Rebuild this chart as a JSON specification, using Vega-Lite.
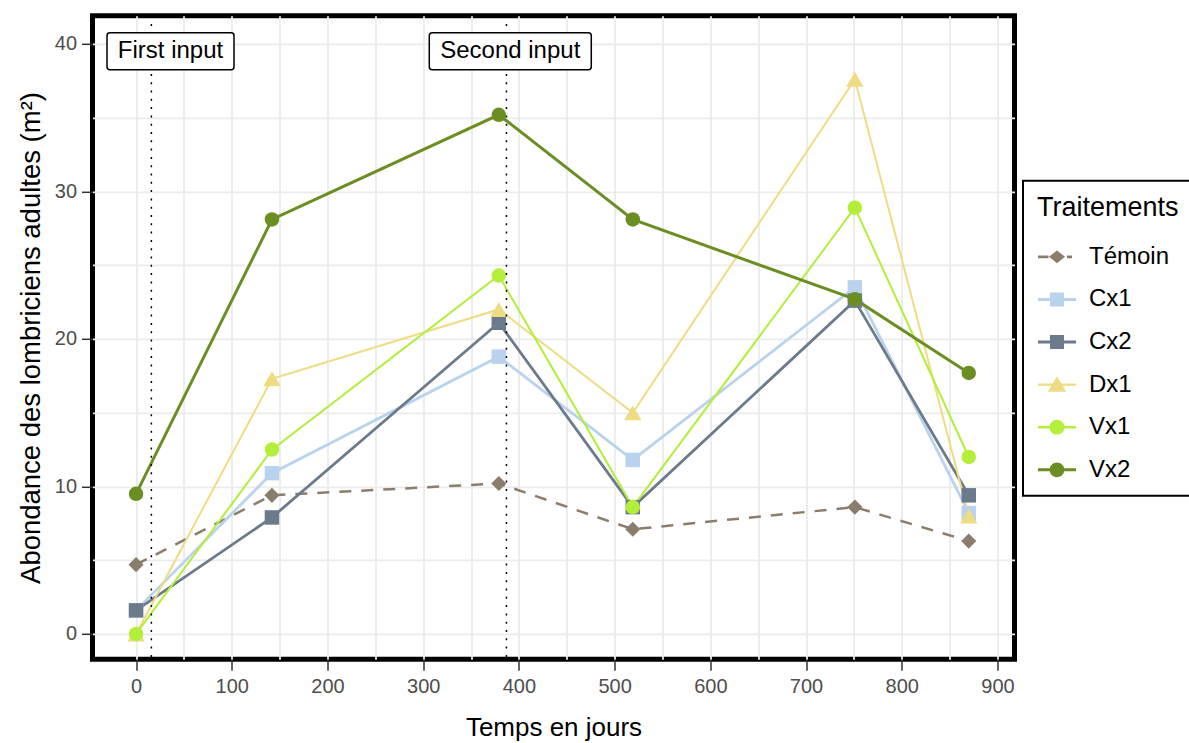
{
  "$schema": "https://vega.github.io/schema/vega-lite/v6.json",
  "width": 922,
  "height": 643.4,
  "autosize": {"type": "none"},
  "padding": {"left": 92.5, "top": 15.8, "right": 174.5, "bottom": 84},
  "background": "white",
  "datasets": {
    "series": [
      {"traitement": "Témoin", "jours": 0, "abondance": 4.7},
      {"traitement": "Témoin", "jours": 142, "abondance": 9.4},
      {"traitement": "Témoin", "jours": 379, "abondance": 10.2},
      {"traitement": "Témoin", "jours": 519, "abondance": 7.1},
      {"traitement": "Témoin", "jours": 751, "abondance": 8.6},
      {"traitement": "Témoin", "jours": 870, "abondance": 6.3},
      {"traitement": "Cx1", "jours": 0, "abondance": 1.6},
      {"traitement": "Cx1", "jours": 142, "abondance": 10.9},
      {"traitement": "Cx1", "jours": 379, "abondance": 18.8},
      {"traitement": "Cx1", "jours": 519, "abondance": 11.8},
      {"traitement": "Cx1", "jours": 751, "abondance": 23.5},
      {"traitement": "Cx1", "jours": 870, "abondance": 8.2},
      {"traitement": "Cx2", "jours": 0, "abondance": 1.6},
      {"traitement": "Cx2", "jours": 142, "abondance": 7.9},
      {"traitement": "Cx2", "jours": 379, "abondance": 21.1},
      {"traitement": "Cx2", "jours": 519, "abondance": 8.6},
      {"traitement": "Cx2", "jours": 751, "abondance": 22.6},
      {"traitement": "Cx2", "jours": 870, "abondance": 9.4},
      {"traitement": "Dx1", "jours": 0, "abondance": 0},
      {"traitement": "Dx1", "jours": 142, "abondance": 17.3},
      {"traitement": "Dx1", "jours": 379, "abondance": 22.0},
      {"traitement": "Dx1", "jours": 519, "abondance": 15.0},
      {"traitement": "Dx1", "jours": 751, "abondance": 37.6},
      {"traitement": "Dx1", "jours": 870, "abondance": 8.0},
      {"traitement": "Vx1", "jours": 0, "abondance": 0},
      {"traitement": "Vx1", "jours": 142, "abondance": 12.5},
      {"traitement": "Vx1", "jours": 379, "abondance": 24.3},
      {"traitement": "Vx1", "jours": 519, "abondance": 8.6},
      {"traitement": "Vx1", "jours": 751, "abondance": 28.9},
      {"traitement": "Vx1", "jours": 870, "abondance": 12.0},
      {"traitement": "Vx2", "jours": 0, "abondance": 9.5},
      {"traitement": "Vx2", "jours": 142, "abondance": 28.1},
      {"traitement": "Vx2", "jours": 379, "abondance": 35.2},
      {"traitement": "Vx2", "jours": 519, "abondance": 28.1},
      {"traitement": "Vx2", "jours": 751, "abondance": 22.7},
      {"traitement": "Vx2", "jours": 870, "abondance": 17.7}
    ],
    "annotations": [
      {"label": "First input", "input": 16, "jours": 36, "abondance": 39.5},
      {"label": "Second input", "input": 387, "jours": 391, "abondance": 39.5}
    ]
  },
  "config": {
    "font": "Liberation Sans",
    "view": {"stroke": "black", "strokeWidth": 5},
    "axis": {
      "domain": false,
      "grid": true,
      "gridColor": "#EBEBEB",
      "gridWidth": 1.8,
      "tickColor": "#333333",
      "tickWidth": 1.5,
      "tickSize": 11,
      "labelFont": "Liberation Sans",
      "labelFontSize": 20,
      "labelColor": "#4D4D4D",
      "labelFlush": false,
      "labelOverlap": false,
      "titleFont": "Liberation Sans",
      "titleFontSize": 26,
      "titleFontWeight": "normal",
      "titleColor": "black"
    },
    "legend": {
      "titleFont": "Liberation Sans",
      "titleFontSize": 27,
      "titleFontWeight": "normal",
      "titleColor": "black",
      "titlePadding": 15,
      "labelFont": "Liberation Sans",
      "labelFontSize": 24,
      "labelColor": "black",
      "labelOffset": 12,
      "symbolSize": 1600,
      "symbolStrokeWidth": 0,
      "symbolOpacity": 1,
      "padding": 14,
      "rowPadding": 10.6,
      "strokeColor": "black",
      "strokeWidth": 2,
      "fillColor": "white"
    }
  },
  "layer": [
    {
      "data": {"name": "series"},
      "transform": [{"filter": {"field": "traitement", "equal": "Témoin"}}],
      "mark": {"type": "line", "strokeWidth": 2.5, "strokeDash": [12, 10]},
      "encoding": {
        "x": {"field": "jours", "type": "quantitative", "scale": {"domain": [-45.5, 917.8], "nice": false, "zero": false},
          "axis": {
            "title": "Temps en jours",
            "values": [0, 50, 100, 150, 200, 250, 300, 350, 400, 450, 500, 550, 600, 650, 700, 750, 800, 850, 900],
            "labelExpr": "datum.value % 100 === 0 ? datum.label : ''",
            "tickOpacity": {"condition": {"test": "datum.value % 100 === 0", "value": 1}, "value": 0},
            "labelPadding": 6,
            "titlePadding": 18
          }},
        "y": {"field": "abondance", "type": "quantitative", "scale": {"domain": [-1.71, 41.91], "nice": false, "zero": false},
          "axis": {
            "title": "Abondance des lombriciens adultes (m²)",
            "titleFontSize": 27.5,
            "values": [0, 5, 10, 15, 20, 25, 30, 35, 40],
            "labelExpr": "datum.value % 10 === 0 ? datum.label : ''",
            "tickOpacity": {"condition": {"test": "datum.value % 10 === 0", "value": 1}, "value": 0},
            "labelPadding": 5,
            "titlePadding": 9
          }},
        "color": {"field": "traitement", "type": "nominal", "legend": null,
          "scale": {"range": ["#B9D3EE", "#6C7B8B", "#EEDC82", "#8B7D6B", "#B3EE3A", "#6B8E23"]}}
      }
    },
    {
      "data": {"name": "series"},
      "transform": [{"filter": {"field": "traitement", "oneOf": ["Cx1", "Cx2"]}}],
      "mark": {"type": "line", "strokeWidth": 2.8},
      "encoding": {
        "x": {"field": "jours", "type": "quantitative"},
        "y": {"field": "abondance", "type": "quantitative"},
        "color": {"field": "traitement", "type": "nominal", "legend": null}
      }
    },
    {
      "data": {"name": "series"},
      "transform": [{"filter": {"field": "traitement", "oneOf": ["Dx1", "Vx1"]}}],
      "mark": {"type": "line", "strokeWidth": 2},
      "encoding": {
        "x": {"field": "jours", "type": "quantitative"},
        "y": {"field": "abondance", "type": "quantitative"},
        "color": {"field": "traitement", "type": "nominal", "legend": null}
      }
    },
    {
      "data": {"name": "series"},
      "transform": [{"filter": {"field": "traitement", "equal": "Vx2"}}],
      "mark": {"type": "line", "strokeWidth": 3},
      "encoding": {
        "x": {"field": "jours", "type": "quantitative"},
        "y": {"field": "abondance", "type": "quantitative"},
        "color": {"field": "traitement", "type": "nominal", "legend": null}
      }
    },
    {
      "data": {"name": "series"},
      "transform": [{"filter": {"field": "traitement", "equal": "Témoin"}}],
      "mark": {"type": "point", "shape": "diamond", "size": 230, "filled": true, "opacity": 1},
      "encoding": {
        "x": {"field": "jours", "type": "quantitative"},
        "y": {"field": "abondance", "type": "quantitative"},
        "color": {"field": "traitement", "type": "nominal", "legend": null}
      }
    },
    {
      "data": {"name": "series"},
      "transform": [{"filter": {"field": "traitement", "oneOf": ["Cx1", "Cx2"]}}],
      "mark": {"type": "point", "shape": "square", "size": 210, "filled": true, "opacity": 1},
      "encoding": {
        "x": {"field": "jours", "type": "quantitative"},
        "y": {"field": "abondance", "type": "quantitative"},
        "color": {"field": "traitement", "type": "nominal", "legend": null}
      }
    },
    {
      "data": {"name": "series"},
      "transform": [{"filter": {"field": "traitement", "equal": "Dx1"}}],
      "mark": {"type": "point", "shape": "triangle-up", "size": 300, "filled": true, "opacity": 1},
      "encoding": {
        "x": {"field": "jours", "type": "quantitative"},
        "y": {"field": "abondance", "type": "quantitative"},
        "color": {"field": "traitement", "type": "nominal", "legend": null}
      }
    },
    {
      "data": {"name": "series"},
      "transform": [{"filter": {"field": "traitement", "oneOf": ["Vx1", "Vx2"]}}],
      "mark": {"type": "point", "shape": "circle", "size": 210, "filled": true, "opacity": 1},
      "encoding": {
        "x": {"field": "jours", "type": "quantitative"},
        "y": {"field": "abondance", "type": "quantitative"},
        "color": {"field": "traitement", "type": "nominal", "legend": null}
      }
    },
    {
      "data": {"name": "annotations"},
      "mark": {"type": "rule", "color": "black", "strokeWidth": 1.5, "strokeDash": [2, 6.3]},
      "encoding": {
        "x": {"field": "input", "type": "quantitative"}
      }
    },
    {
      "data": {"name": "annotations"},
      "transform": [{"filter": {"field": "label", "equal": "First input"}}],
      "mark": {"type": "point", "size": 4, "filled": true, "fill": "white", "stroke": "black", "strokeWidth": 1.5, "opacity": 1,
        "shape": "M-60.5,-18.5 H60.5 Q63.5,-18.5 63.5,-15.5 V15.5 Q63.5,18.5 60.5,18.5 H-60.5 Q-63.5,18.5 -63.5,15.5 V-15.5 Q-63.5,-18.5 -60.5,-18.5 Z"},
      "encoding": {
        "x": {"field": "jours", "type": "quantitative"},
        "y": {"field": "abondance", "type": "quantitative"}
      }
    },
    {
      "data": {"name": "annotations"},
      "transform": [{"filter": {"field": "label", "equal": "Second input"}}],
      "mark": {"type": "point", "size": 4, "filled": true, "fill": "white", "stroke": "black", "strokeWidth": 1.5, "opacity": 1,
        "shape": "M-78,-18.5 H78 Q81,-18.5 81,-15.5 V15.5 Q81,18.5 78,18.5 H-78 Q-81,18.5 -81,15.5 V-15.5 Q-81,-18.5 -78,-18.5 Z"},
      "encoding": {
        "x": {"field": "jours", "type": "quantitative"},
        "y": {"field": "abondance", "type": "quantitative"}
      }
    },
    {
      "data": {"name": "annotations"},
      "mark": {"type": "text", "font": "Liberation Sans", "fontSize": 24, "color": "black", "align": "center", "baseline": "middle"},
      "encoding": {
        "x": {"field": "jours", "type": "quantitative"},
        "y": {"field": "abondance", "type": "quantitative"},
        "text": {"field": "label", "type": "nominal"}
      }
    },
    {
      "data": {"values": []},
      "mark": {"type": "point", "filled": true, "opacity": 1},
      "encoding": {
        "x": {"field": "jours", "type": "quantitative"},
        "y": {"field": "abondance", "type": "quantitative"},
        "fill": {"field": "traitement", "type": "nominal",
          "scale": {"domain": ["Témoin", "Cx1", "Cx2", "Dx1", "Vx1", "Vx2"], "range": ["#8B7D6B", "#B9D3EE", "#6C7B8B", "#EEDC82", "#B3EE3A", "#6B8E23"]},
          "legend": {"title": "Traitements", "orient": "none", "legendX": 930.5, "legendY": 165}},
        "shape": {"field": "traitement", "type": "nominal",
          "scale": {"domain": ["Témoin", "Cx1", "Cx2", "Dx1", "Vx1", "Vx2"], "range": [
            "M-0.95,-0.07 H-0.42 V0.07 H-0.95 Z M-0.4,0 L0,-0.32 L0.4,0 L0,0.32 Z M0.5,-0.07 H0.75 V0.07 H0.5 Z",
            "M-0.95,-0.075 H0.95 V0.075 H-0.95 Z M-0.35,-0.35 H0.35 V0.35 H-0.35 Z",
            "M-0.95,-0.075 H0.95 V0.075 H-0.95 Z M-0.35,-0.35 H0.35 V0.35 H-0.35 Z",
            "M-0.95,-0.06 H0.95 V0.06 H-0.95 Z M0,-0.42 L0.46,0.36 L-0.46,0.36 Z",
            "M-0.95,-0.06 H0.95 V0.06 H-0.95 Z M0.37,0 C0.37,0.204 0.204,0.37 0,0.37 C-0.204,0.37 -0.37,0.204 -0.37,0 C-0.37,-0.204 -0.204,-0.37 0,-0.37 C0.204,-0.37 0.37,-0.204 0.37,0 Z",
            "M-0.95,-0.075 H0.95 V0.075 H-0.95 Z M0.37,0 C0.37,0.204 0.204,0.37 0,0.37 C-0.204,0.37 -0.37,0.204 -0.37,0 C-0.37,-0.204 -0.204,-0.37 0,-0.37 C0.204,-0.37 0.37,-0.204 0.37,0 Z"
          ]},
          "legend": {"title": "Traitements", "orient": "none", "legendX": 930.5, "legendY": 165}}
      }
    }
  ]
}
